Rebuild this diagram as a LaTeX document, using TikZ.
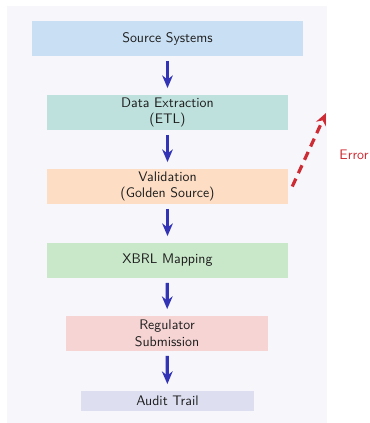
\documentclass[tikz,border=0pt]{standalone}
\usetikzlibrary{arrows.meta}
\renewcommand{\familydefault}{\sfdefault}

\definecolor{panel}{RGB}{246,246,251}
\definecolor{srcfill}{RGB}{201,223,243}
\definecolor{etlfill}{RGB}{190,225,221}
\definecolor{valfill}{RGB}{253,222,196}
\definecolor{xbrlfill}{RGB}{201,231,201}
\definecolor{regfill}{RGB}{246,212,212}
\definecolor{auditfill}{RGB}{221,223,241}
\definecolor{flowblue}{RGB}{51,51,181}
\definecolor{errred}{RGB}{206,44,52}
\definecolor{ink}{RGB}{30,30,30}

\tikzset{
  every node/.style={font=\fontsize{10.4pt}{12.5pt}\selectfont},
  stagebox/.style={minimum height=26.25pt, inner sep=0pt, align=center, text=ink},
  flow/.style={flowblue, line width=2.4pt, -{Stealth[length=9.5pt,width=8pt]},
    shorten <=3.5pt, shorten >=5pt},
}

\newcommand{\drawStage}[6]{
    \node[stagebox, fill=#4, minimum width=#5] (#1) at (#2,#3) {#6};
}

\begin{document}
\begin{tikzpicture}[x=0.75pt, y=-0.75pt]
\useasboundingbox (0,0) rectangle (369,423);
\fill[panel] (7,6) rectangle (327,423);

% Pipeline stages
\drawStage{src}{167.5}{38.5}{srcfill}{203.25pt}{Source Systems}
\drawStage{etl}{167.5}{112.5}{etlfill}{180.75pt}{Data Extraction\\(ETL)}
\drawStage{val}{167.5}{186.5}{valfill}{180.75pt}{Validation\\(Golden Source)}
\drawStage{xbrl}{167.5}{260.5}{xbrlfill}{180.75pt}{XBRL Mapping}
\drawStage{reg}{167}{333.5}{regfill}{151.5pt}{Regulator\\Submission}
\node[stagebox, fill=auditfill, minimum width=129.75pt, minimum height=15pt]
    (audit) at (167.5,401) {Audit Trail};

% Main flow
\draw[flow] (src) -- (etl);
\draw[flow] (etl) -- (val);
\draw[flow] (val) -- (xbrl);
\draw[flow] (xbrl) -- (reg);
\draw[flow] (reg) -- (audit);

% Error path back up
\coordinate (errtip) at (326,113);
\draw[errred, line width=2.4pt, dash pattern=on 6.5pt off 4.5pt,
      -{Stealth[length=9pt,width=8pt]}]
    ([xshift=3pt]val.east) -- (errtip);
\node[text=errred] (err) at (354,155) {Error};

\end{tikzpicture}
\end{document}
